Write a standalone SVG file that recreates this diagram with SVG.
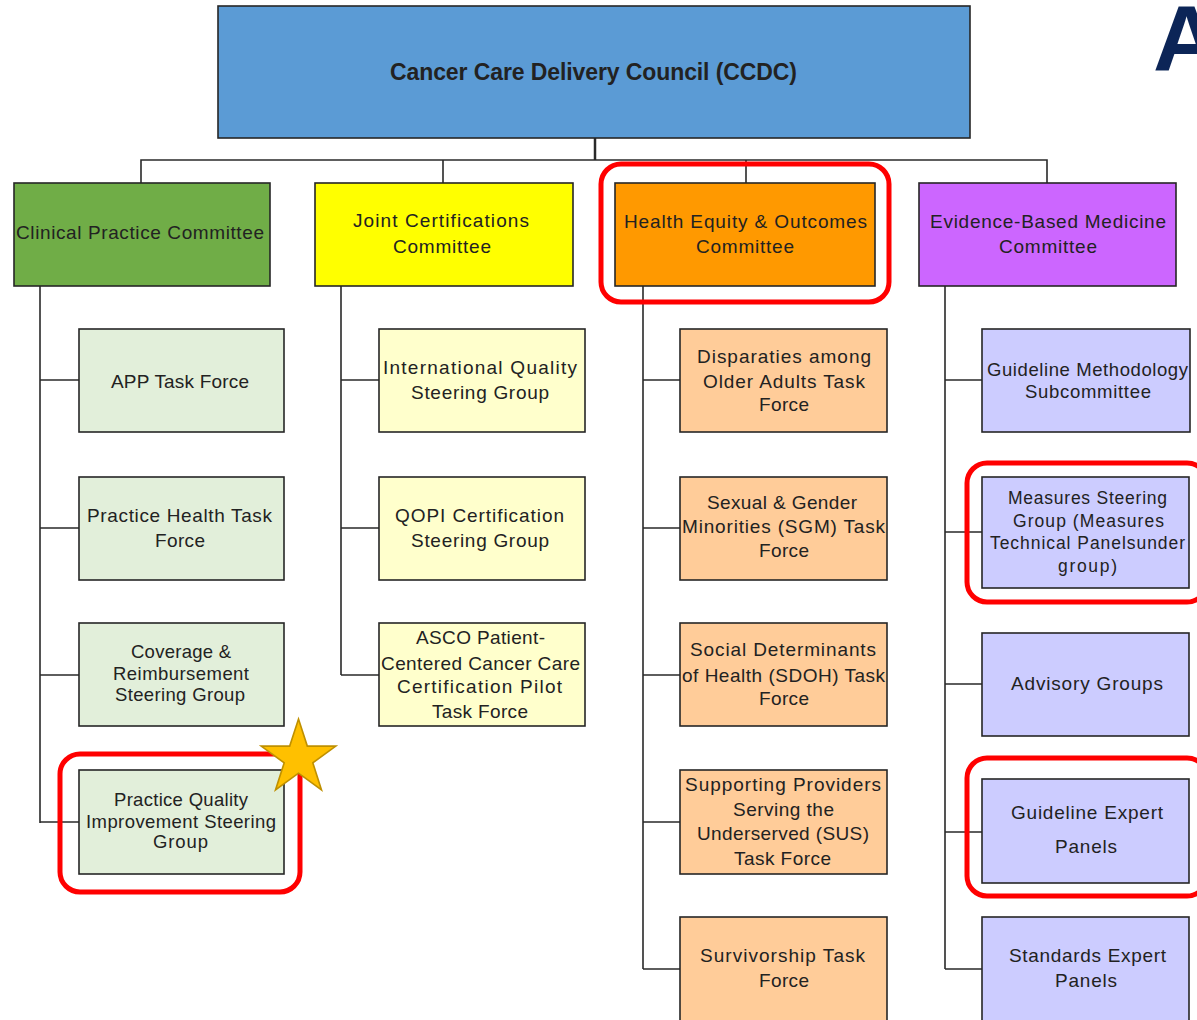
<svg xmlns="http://www.w3.org/2000/svg" width="1197" height="1020" viewBox="0 0 1197 1020">
<style>
  text { font-family: "Liberation Sans", Arial, sans-serif; font-size: 19px; fill: #222222; }
  .sm { font-size: 17.5px; }
  .md { font-size: 18.5px; }
  .box { stroke: #262626; stroke-width: 1.6; }
  .conn { stroke: #2a2a2a; stroke-width: 1.6; fill: none; }
  .hl { fill: none; stroke: #ff0000; stroke-width: 5; }
  .green { fill: #e2efda; }
  .yellow { fill: #ffffcc; }
  .orange { fill: #ffcc99; }
  .purple { fill: #ccccff; }
</style>
<rect x="0" y="0" width="1197" height="1020" fill="#ffffff"/>

<text x="1153" y="70" style="font-size:93px;font-weight:bold;fill:#0c2557">A</text>

<g id="connectors">
  <path class="conn" d="M595 138 V160" style="stroke-width:2.5"/>
  <path class="conn" d="M141 183 V160 H1047 V183"/>
  <path class="conn" d="M443 160 V183 M746 160 V183"/>
  <path class="conn" d="M40 286 V823 M40 380 H79 M40 528 H79 M40 675 H79 M40 822 H79"/>
  <path class="conn" d="M341 286 V675 M341 380 H379 M341 528 H379 M341 675 H379"/>
  <path class="conn" d="M643 286 V969 M643 380 H680 M643 528 H680 M643 675 H680 M643 822 H680 M643 969 H680"/>
  <path class="conn" d="M945 286 V969 M945 380 H982 M945 532 H982 M945 684 H982 M945 832 H982 M945 969 H982"/>
</g>

<g id="ccdc">
  <rect class="box" x="218" y="6" width="752" height="132" fill="#5b9bd5"/>
  <text x="390" y="80" textLength="407" style="font-size:23px;font-weight:bold">Cancer Care Delivery Council (CCDC)</text>
</g>

<g id="clinical">
  <rect class="box" x="14" y="183" width="256" height="103" fill="#70ad47"/>
  <text x="16" y="239" textLength="248">Clinical Practice Committee</text>
</g>
<g id="joint">
  <rect class="box" x="315" y="183" width="258" height="103" fill="#ffff00"/>
  <text x="353" y="227" textLength="176">Joint Certifications</text>
  <text x="393" y="253" textLength="98">Committee</text>
</g>
<g id="health">
  <rect class="box" x="615" y="183" width="260" height="103" fill="#ff9900"/>
  <text x="624" y="228" textLength="243">Health Equity &amp; Outcomes</text>
  <text x="696" y="253" textLength="98">Committee</text>
  <rect class="hl" x="601" y="164" width="288" height="138" rx="20"/>
</g>
<g id="ebm">
  <rect class="box" x="919" y="183" width="257" height="103" fill="#cc66ff"/>
  <text x="930" y="228" textLength="236">Evidence-Based Medicine</text>
  <text x="999" y="253" textLength="98">Committee</text>
</g>

<g id="app">
  <rect class="box green" x="79" y="329" width="205" height="103"/>
  <text x="111" y="388" textLength="138">APP Task Force</text>
</g>
<g id="practice-health">
  <rect class="box green" x="79" y="477" width="205" height="103"/>
  <text x="87" y="522" textLength="185">Practice Health Task</text>
  <text x="155" y="547" textLength="50">Force</text>
</g>
<g id="coverage">
  <rect class="box green" x="79" y="623" width="205" height="103"/>
  <text class="md" x="131" y="658" textLength="100">Coverage &amp;</text>
  <text class="md" x="113" y="680" textLength="136">Reimbursement</text>
  <text class="md" x="115" y="701" textLength="130">Steering Group</text>
</g>
<g id="pqi">
  <rect class="box green" x="79" y="770" width="205" height="104"/>
  <text class="md" x="114" y="806" textLength="134">Practice Quality</text>
  <text class="md" x="86" y="828" textLength="190">Improvement Steering</text>
  <text class="md" x="153" y="848" textLength="55">Group</text>
  <rect class="hl" x="60" y="754" width="240" height="138" rx="20"/>
  <polygon points="298.5,719 307.3,746.1 335.8,746.1 312.8,762.8 321.5,789.9 298.5,773.2 275.5,789.9 284.2,762.8 261.2,746.1 289.7,746.1" fill="#ffc000" stroke="#bf9000" stroke-width="1.6" stroke-linejoin="miter"/>
</g>

<g id="intl">
  <rect class="box yellow" x="379" y="329" width="206" height="103"/>
  <text x="383" y="374" textLength="194">International Quality</text>
  <text x="411" y="399" textLength="138">Steering Group</text>
</g>
<g id="qopi">
  <rect class="box yellow" x="379" y="477" width="206" height="103"/>
  <text x="395" y="522" textLength="169">QOPI Certification</text>
  <text x="411" y="547" textLength="138">Steering Group</text>
</g>
<g id="asco">
  <rect class="box yellow" x="379" y="623" width="206" height="103"/>
  <text x="416" y="644" textLength="129">ASCO Patient-</text>
  <text x="381" y="670" textLength="199">Centered  Cancer Care</text>
  <text x="397" y="693" textLength="165">Certification Pilot</text>
  <text x="432" y="718" textLength="96">Task Force</text>
</g>

<g id="disparities">
  <rect class="box orange" x="680" y="329" width="207" height="103"/>
  <text x="697" y="363" textLength="174">Disparaties among</text>
  <text x="703" y="388" textLength="162">Older Adults Task</text>
  <text x="759" y="411" textLength="50">Force</text>
</g>
<g id="sgm">
  <rect class="box orange" x="680" y="477" width="207" height="103"/>
  <text x="707" y="509" textLength="150">Sexual &amp; Gender</text>
  <text x="682" y="533" textLength="203">Minorities (SGM) Task</text>
  <text x="759" y="557" textLength="50">Force</text>
</g>
<g id="sdoh">
  <rect class="box orange" x="680" y="623" width="207" height="103"/>
  <text x="690" y="656" textLength="186">Social Determinants</text>
  <text x="682" y="682" textLength="203">of Health (SDOH) Task</text>
  <text x="759" y="705" textLength="50">Force</text>
</g>
<g id="sus">
  <rect class="box orange" x="680" y="770" width="207" height="104"/>
  <text x="685" y="791" textLength="196">Supporting Providers</text>
  <text x="733" y="816" textLength="101">Serving the</text>
  <text x="697" y="840" textLength="172">Underserved  (SUS)</text>
  <text x="734" y="865" textLength="97">Task Force</text>
</g>
<g id="survivorship">
  <rect class="box orange" x="680" y="917" width="207" height="104"/>
  <text x="700" y="962" textLength="165">Survivorship Task</text>
  <text x="759" y="987" textLength="50">Force</text>
</g>

<g id="methodology">
  <rect class="box purple" x="982" y="329" width="208" height="103"/>
  <text class="md" x="987" y="376" textLength="201">Guideline Methodology</text>
  <text class="md" x="1025" y="398" textLength="126">Subcommittee</text>
</g>
<g id="measures">
  <rect class="box purple" x="982" y="477" width="207" height="111"/>
  <text class="sm" x="1008" y="504" textLength="159">Measures Steering</text>
  <text class="sm" x="1013" y="527" textLength="151">Group (Measures</text>
  <text class="sm" x="990" y="549" textLength="195">Technical Panelsunder</text>
  <text class="sm" x="1058" y="572" textLength="59">group)</text>
  <rect class="hl" x="967" y="463" width="240" height="139" rx="20"/>
</g>
<g id="advisory">
  <rect class="box purple" x="982" y="633" width="207" height="103"/>
  <text x="1011" y="690" textLength="152">Advisory Groups</text>
</g>
<g id="expert">
  <rect class="box purple" x="982" y="779" width="207" height="104"/>
  <text x="1011" y="819" textLength="152">Guideline Expert</text>
  <text x="1055" y="853" textLength="62">Panels</text>
  <rect class="hl" x="967" y="758" width="240" height="138" rx="20"/>
</g>
<g id="standards">
  <rect class="box purple" x="982" y="917" width="207" height="104"/>
  <text x="1009" y="962" textLength="157">Standards Expert</text>
  <text x="1055" y="987" textLength="62">Panels</text>
</g>
</svg>
